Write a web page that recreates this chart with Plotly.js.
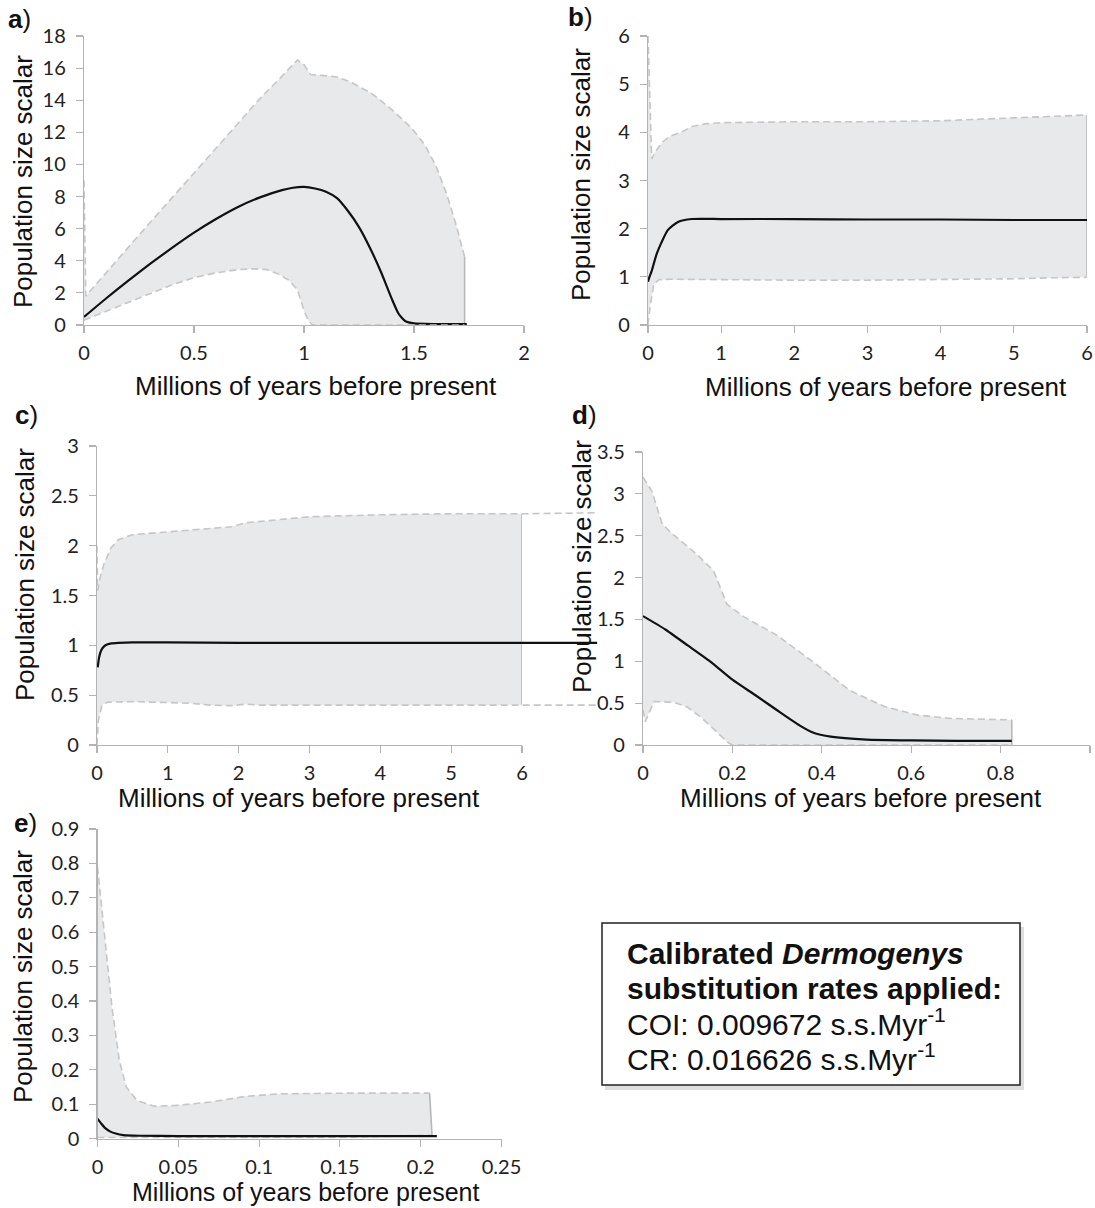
<!DOCTYPE html>
<html>
<head>
<meta charset="utf-8">
<script src="https://cdn.plot.ly/plotly-3.0.1.min.js"></script>
<style>html,body{margin:0;padding:0;background:#fff;}#chart{width:1095px;height:1208px;}</style>
</head>
<body>
<div id="chart"></div>
<script>
// ---------- Panel a ----------
const aUpperX = [0, 0.008, 0.25, 0.5, 0.7, 0.8, 0.9, 0.97, 1.0, 1.03, 1.08, 1.15, 1.21, 1.31, 1.40, 1.49, 1.55, 1.60, 1.65, 1.69, 1.73];
const aUpperY = [9.0, 1.8, 5.6, 9.45, 12.6, 14.1, 15.5, 16.5, 16.2, 15.6, 15.55, 15.45, 15.15, 14.4, 13.4, 12.25, 11.2, 9.9, 8.1, 6.3, 4.25];
const aLowerX = [0, 0.1, 0.2, 0.3, 0.4, 0.5, 0.6, 0.7, 0.77, 0.83, 0.88, 0.93, 0.97, 1.0, 1.02, 1.04, 1.73];
const aLowerY = [0.3, 0.85, 1.45, 2.0, 2.5, 2.95, 3.25, 3.45, 3.5, 3.45, 3.2, 2.8, 2.2, 0.9, 0.25, 0, 0];
const aMedX = [0, 0.1, 0.2, 0.3, 0.4, 0.5, 0.6, 0.7, 0.8, 0.9, 0.95, 1.0, 1.05, 1.1, 1.15, 1.2, 1.25, 1.3, 1.35, 1.4, 1.43, 1.46, 1.5, 1.6, 1.74];
const aMedY = [0.5, 1.65, 2.75, 3.8, 4.8, 5.75, 6.6, 7.35, 7.95, 8.4, 8.55, 8.6, 8.5, 8.3, 7.9, 7.1, 6.1, 4.8, 3.3, 1.6, 0.7, 0.25, 0.1, 0.06, 0.05];

// ---------- Panel b ----------
const bUpperX = [0, 0.05, 0.1, 0.2, 0.3, 0.45, 0.6, 0.8, 1, 2, 3, 4, 5, 6];
const bUpperY = [6.0, 3.45, 3.6, 3.8, 3.92, 4.0, 4.12, 4.18, 4.2, 4.22, 4.22, 4.24, 4.3, 4.36];
const bLowerX = [0, 0.03, 0.08, 0.15, 0.3, 1, 2, 3, 4, 5, 5.5, 6];
const bLowerY = [0.0, 0.4, 0.85, 0.94, 0.95, 0.94, 0.93, 0.93, 0.94, 0.96, 0.98, 0.99];
const bMedX = [0, 0.02, 0.05, 0.08, 0.12, 0.18, 0.27, 0.41, 0.6, 1, 2, 3, 4, 5, 6];
const bMedY = [0.9, 1.0, 1.12, 1.28, 1.48, 1.7, 1.97, 2.14, 2.2, 2.2, 2.2, 2.19, 2.19, 2.18, 2.18];

// ---------- Panel c ----------
const cUpperX = [0, 0.01, 0.05, 0.1, 0.2, 0.3, 0.5, 1, 1.5, 1.9, 2.1, 2.5, 3, 4, 5, 6];
const cUpperY = [2.0, 1.55, 1.7, 1.82, 1.98, 2.06, 2.11, 2.14, 2.17, 2.19, 2.23, 2.26, 2.29, 2.31, 2.32, 2.32];
const cLowerX = [0, 0.02, 0.07, 0.15, 0.5, 1, 1.3, 1.6, 1.9, 2.1, 2.3, 3, 4, 5, 6];
const cLowerY = [0.0, 0.25, 0.4, 0.43, 0.435, 0.43, 0.42, 0.4, 0.395, 0.41, 0.4, 0.4, 0.4, 0.4, 0.405];
const cMedX = [0.01, 0.03, 0.06, 0.1, 0.15, 0.2, 0.3, 0.5, 1, 2, 3, 4, 5, 6];
const cMedY = [0.78, 0.88, 0.95, 0.99, 1.01, 1.02, 1.025, 1.03, 1.03, 1.025, 1.025, 1.025, 1.025, 1.025];
// lines that run on past the axis end (x = 6) in the original figure
const cExtX = [7.06];
const cExtUpper = [2.33];
const cExtLower = [0.40];
const cExtMed = [1.025];

// ---------- Panel d ----------
const dUpperX = [0, 0.02, 0.043, 0.066, 0.12, 0.158, 0.188, 0.226, 0.3, 0.386, 0.463, 0.54, 0.615, 0.69, 0.825];
const dUpperY = [3.2, 3.03, 2.64, 2.52, 2.28, 2.08, 1.68, 1.53, 1.31, 0.97, 0.65, 0.46, 0.357, 0.317, 0.3];
const dLowerX = [0, 0.005, 0.025, 0.07, 0.1, 0.13, 0.16, 0.19, 0.2, 0.825];
const dLowerY = [0.42, 0.28, 0.52, 0.51, 0.45, 0.33, 0.18, 0.03, 0, 0];
const dMedX = [0, 0.05, 0.1, 0.15, 0.2, 0.25, 0.3, 0.35, 0.38, 0.42, 0.5, 0.6, 0.7, 0.825];
const dMedY = [1.54, 1.38, 1.19, 1.0, 0.78, 0.6, 0.415, 0.235, 0.15, 0.1, 0.065, 0.055, 0.05, 0.05];

// ---------- Panel e ----------
const eUpperX = [0, 0.0048, 0.009, 0.0135, 0.0178, 0.0243, 0.035, 0.048, 0.07, 0.0916, 0.113, 0.157, 0.2055];
const eUpperY = [0.79, 0.574, 0.38, 0.227, 0.15, 0.111, 0.094, 0.096, 0.106, 0.1225, 0.13, 0.132, 0.132];
const eLowerX = [0, 0.05, 0.1, 0.15, 0.207];
const eLowerY = [0.003, 0.003, 0.003, 0.003, 0.01];
const eMedX = [0, 0.0024, 0.0048, 0.008, 0.0113, 0.016, 0.026, 0.05, 0.1, 0.15, 0.21];
const eMedY = [0.058, 0.043, 0.03, 0.02, 0.0145, 0.01, 0.008, 0.007, 0.007, 0.007, 0.0068];

// ---------- Text ----------
const panelLabels = ['a', 'b', 'c', 'd', 'e'];
const yTitle = 'Population size scalar';
const xTitle = 'Millions of years before present';
const boxLines = ['<b>Calibrated <i>Dermogenys</i></b>', '<b>substitution rates applied:</b>',
  'COI: 0.009672 s.s.Myr<sup>-1</sup>', 'CR: 0.016626 s.s.Myr<sup>-1</sup>'];

// ---------- Build ----------
const W = 1095, H = 1208;
const fx = p => p / W;
const fy = p => 1 - p / H;
const FILL = '#e8e9eb';
const DASH = '#c6c6c6';
const last = a => a[a.length - 1];

function band(ux, uy, lx, ly, xa, ya) {
  return {
    type: 'scatter', mode: 'lines', xaxis: xa, yaxis: ya,
    x: ux.concat(lx.slice().reverse()), y: uy.concat(ly.slice().reverse()),
    fill: 'toself', fillcolor: FILL, line: {width: 0}, hoverinfo: 'skip'
  };
}
// darker right-hand edge of the shaded band
function edge(ux, uy, lx, ly, xa, ya) {
  return {type: 'scatter', mode: 'lines', xaxis: xa, yaxis: ya,
    x: [last(ux), last(lx)], y: [last(uy), last(ly)],
    line: {color: '#b8b8b8', width: 1.6}, hoverinfo: 'skip'};
}
function dashed(x, y, xa, ya) {
  return {type: 'scatter', mode: 'lines', xaxis: xa, yaxis: ya, x: x, y: y,
    line: {color: DASH, width: 1.6, dash: '7px,4px'}, hoverinfo: 'skip'};
}
function median(x, y, xa, ya) {
  return {type: 'scatter', mode: 'lines', xaxis: xa, yaxis: ya, x: x, y: y,
    line: {color: '#111', width: 2.2, shape: 'spline', smoothing: 0.5}, hoverinfo: 'skip'};
}

const data = [
  band(aUpperX, aUpperY, aLowerX, aLowerY, 'x', 'y'),
  edge(aUpperX, aUpperY, aLowerX, aLowerY, 'x', 'y'),
  dashed(aUpperX, aUpperY, 'x', 'y'),
  median(aMedX, aMedY, 'x', 'y'),
  dashed(aLowerX, aLowerY, 'x', 'y'),

  band(bUpperX, bUpperY, bLowerX, bLowerY, 'x2', 'y2'),
  edge(bUpperX, bUpperY, bLowerX, bLowerY, 'x2', 'y2'),
  dashed(bUpperX, bUpperY, 'x2', 'y2'),
  dashed(bLowerX, bLowerY, 'x2', 'y2'),
  median(bMedX, bMedY, 'x2', 'y2'),

  band(cUpperX, cUpperY, cLowerX, cLowerY, 'x3', 'y3'),
  edge(cUpperX, cUpperY, cLowerX, cLowerY, 'x3', 'y3'),
  dashed(cUpperX.concat(cExtX), cUpperY.concat(cExtUpper), 'x6', 'y6'),
  dashed(cLowerX.concat(cExtX), cLowerY.concat(cExtLower), 'x6', 'y6'),
  median(cMedX.concat(cExtX), cMedY.concat(cExtMed), 'x6', 'y6'),

  band(dUpperX, dUpperY, dLowerX, dLowerY, 'x4', 'y4'),
  edge(dUpperX, dUpperY, dLowerX, dLowerY, 'x4', 'y4'),
  dashed(dUpperX, dUpperY, 'x4', 'y4'),
  dashed(dLowerX, dLowerY, 'x4', 'y4'),
  median(dMedX, dMedY, 'x4', 'y4'),

  band(eUpperX, eUpperY, eLowerX, eLowerY, 'x5', 'y5'),
  edge(eUpperX, eUpperY, eLowerX, eLowerY, 'x5', 'y5'),
  dashed(eUpperX, eUpperY, 'x5', 'y5'),
  dashed(eLowerX, eLowerY, 'x5', 'y5'),
  median(eMedX, eMedY, 'x5', 'y5')
];

const AXC = '#b3b3b3';
const TICKF = {family: 'Lato', size: 20, color: '#222'};
function xax(d0, d1, range, dtick, anchor) {
  return {domain: [fx(d0), fx(d1)], range: range, dtick: dtick, tick0: 0, anchor: anchor,
    showgrid: false, zeroline: false, showline: true, linecolor: AXC, linewidth: 1.2,
    ticks: 'outside', ticklen: 7, tickcolor: AXC, tickwidth: 1.2, ticklabelstandoff: 3,
    tickfont: TICKF, fixedrange: true};
}
function yax(p0, p1, range, dtick, anchor) {
  return {domain: [fy(p0), fy(p1)], range: range, dtick: dtick, tick0: 0, anchor: anchor,
    showgrid: false, zeroline: false, showline: true, linecolor: AXC, linewidth: 1.2,
    ticks: 'outside', ticklen: 7, tickcolor: AXC, tickwidth: 1.2, ticklabelstandoff: 6,
    tickfont: TICKF, fixedrange: true};
}

const TF = {family: 'Liberation Sans, Arial, sans-serif', size: 26, color: '#111'};
function ann(text, x, y, opts) {
  return Object.assign({text: text, x: fx(x), y: fy(y), xref: 'paper', yref: 'paper',
    showarrow: false, font: TF, xanchor: 'center', yanchor: 'middle'}, opts || {});
}
const yT = [[23, 182], [581, 175], [25, 575], [582, 567], [23, 977]];
const xT = [[316, 386], [886, 387], [299, 798], [861, 798], [305, 1192]];
const xTsize = [26, 26, 26, 26, 25];
const pL = [[6, 19], [566, 17], [13, 415], [570, 415], [12, 823]];

const annotations = [];
for (let i = 0; i < 5; i++) {
  annotations.push(ann(yTitle, yT[i][0], yT[i][1], {textangle: -90}));
  annotations.push(ann(xTitle, xT[i][0], xT[i][1], {font: Object.assign({}, TF, {size: xTsize[i]})}));
  annotations.push(ann('<b>' + panelLabels[i] + '</b>)', pL[i][0], pL[i][1], {xanchor: 'left', font: Object.assign({}, TF, {size: 26})}));
}
const boxY = [953, 988, 1022, 1057];
boxLines.forEach((t, i) => annotations.push(ann(t, 625, boxY[i],
  {xanchor: 'left', font: {family: 'Liberation Sans, Arial, sans-serif', size: 30, color: '#111'}})));

const shapes = [
  {type: 'rect', xref: 'paper', yref: 'paper', x0: fx(605), x1: fx(1024), y0: fy(1090), y1: fy(927),
    line: {width: 0}, fillcolor: 'rgba(0,0,0,0.13)'},
  {type: 'rect', xref: 'paper', yref: 'paper', x0: fx(602), x1: fx(1020), y0: fy(1085), y1: fy(923),
    line: {color: '#222', width: 1.5}, fillcolor: '#fff'}
];

const layout = {
  width: W, height: H, margin: {l: 0, r: 0, t: 0, b: 0},
  paper_bgcolor: '#fff', plot_bgcolor: 'rgba(0,0,0,0)', showlegend: false,
  xaxis: xax(84, 524, [0, 2], 0.5, 'y'),
  yaxis: yax(325, 36, [0, 18], 2, 'x'),
  xaxis2: xax(648, 1087, [0, 6], 1, 'y2'),
  yaxis2: yax(325, 36, [0, 6], 1, 'x2'),
  xaxis3: xax(97, 522, [0, 6], 1, 'y3'),
  yaxis3: yax(745, 446, [0, 3], 0.5, 'x3'),
  xaxis4: xax(643, 1090, [0, 1], 0.2, 'y4'),
  yaxis4: yax(745, 452, [0, 3.5], 0.5, 'x4'),
  xaxis5: xax(97.5, 501.5, [0, 0.25], 0.05, 'y5'),
  yaxis5: yax(1138.5, 829, [0, 0.9], 0.1, 'x5'),
  // invisible companion axes for panel c so its lines can run past x = 6 as in the original
  xaxis6: {domain: [fx(97), fx(600)], range: [0, 6 * (600 - 97) / (522 - 97)], anchor: 'y6', visible: false, fixedrange: true},
  yaxis6: {domain: [fy(745), fy(446)], range: [0, 3], anchor: 'x6', visible: false, fixedrange: true},
  annotations: annotations,
  shapes: shapes
};

Plotly.newPlot('chart', data, layout, {staticPlot: true, displayModeBar: false});
</script>
</body>
</html>
